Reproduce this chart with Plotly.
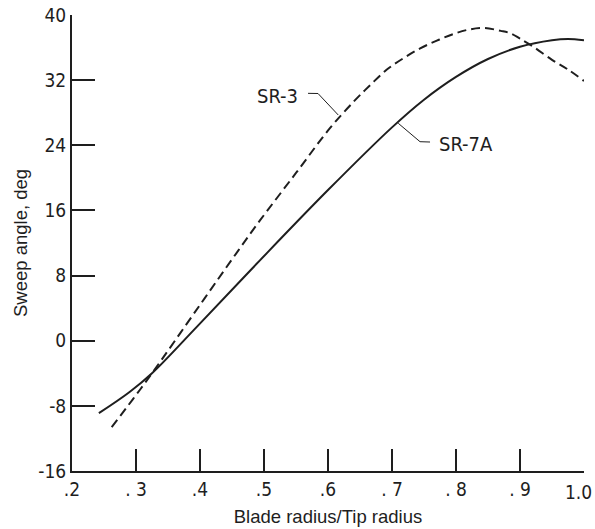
import plotly.graph_objects as go

# SR-7A (solid)
sr7a_x = [0.242, 0.29, 0.325, 0.395, 0.494, 0.60, 0.70, 0.75, 0.80, 0.85, 0.90, 0.95, 0.975, 1.0]
sr7a_y = [-8.9, -6.3, -4.0, 1.7, 9.9, 18.5, 26.2, 29.6, 32.4, 34.6, 36.1, 36.9, 37.05, 36.9]

# SR-3 (dashed)
sr3_x = [0.262, 0.295, 0.325, 0.40, 0.46, 0.494, 0.55, 0.603, 0.64, 0.666, 0.692, 0.718, 0.744,
         0.77, 0.796, 0.822, 0.845, 0.87, 0.885, 0.90, 0.921, 0.95, 0.976, 1.0]
sr3_y = [-10.6, -7.2, -4.0, 4.4, 11.1, 14.8, 20.6, 26.1, 29.35, 31.4, 33.3, 34.7, 35.9,
         36.85, 37.67, 38.24, 38.4, 38.05, 37.75, 37.1, 36.1, 34.5, 33.25, 31.9]

x_ticks = [0.2, 0.3, 0.4, 0.5, 0.6, 0.7, 0.8, 0.9, 1.0]
x_tick_labels = [".2", ". 3", ".4", ".5", ".6", ". 7", ". 8", ". 9", "1.0"]
y_ticks = [-16, -8, 0, 8, 16, 24, 32, 40]
y_tick_labels = ["-16", "-8", "0", "8", "16", "24", "32", "40"]

INK = "#1e1e1e"
NARROW = "Liberation Sans Narrow, DejaVu Sans Condensed, sans-serif"
REG = "Liberation Sans, Arial, sans-serif"

fig = go.Figure()
fig.add_trace(go.Scatter(x=sr7a_x, y=sr7a_y, mode="lines",
                         line=dict(color=INK, width=2, shape="spline", smoothing=1.0),
                         showlegend=False, hoverinfo="skip", cliponaxis=False))
fig.add_trace(go.Scatter(x=sr3_x, y=sr3_y, mode="lines",
                         line=dict(color=INK, width=2, dash="9px,5px", shape="spline", smoothing=1.0),
                         showlegend=False, hoverinfo="skip", cliponaxis=False))

# leader lines
fig.add_shape(type="path", path="M 0.5688 30.38 L 0.5844 30.36 L 0.616 27.72",
              xref="x", yref="y", line=dict(color=INK, width=1))
fig.add_shape(type="path", path="M 0.7098 26.7 L 0.7438 24.44 L 0.7594 24.4",
              xref="x", yref="y", line=dict(color=INK, width=1))

fig.add_annotation(x=0.556, y=30.1, text="SR-3", showarrow=False, xanchor="right", yanchor="middle",
                   font=dict(family=NARROW, size=20, color=INK))
fig.add_annotation(x=0.77, y=24.2, text="SR-7A", showarrow=False, xanchor="left", yanchor="middle",
                   font=dict(family=NARROW, size=20, color=INK))

# last x tick label drawn as annotation so it stays inside the page
tick_text_main = x_tick_labels[:-1] + [""]
fig.add_annotation(x=x_ticks[-1], y=0, xref="x", yref="paper", text=x_tick_labels[-1],
                   showarrow=False, xanchor="right", yanchor="top", xshift=10, yshift=-8,
                   font=dict(family=NARROW, size=19, color=INK))

fig.update_layout(
    width=595, height=529,
    margin=dict(l=72, r=11, t=15, b=58),
    paper_bgcolor="white", plot_bgcolor="white",
    showlegend=False,
)
fig.update_xaxes(range=[0.2, 1.0], tickvals=x_ticks, ticktext=tick_text_main,
                 showline=True, linecolor=INK, linewidth=2, mirror=False,
                 ticks="inside", ticklen=22, tickwidth=1.5, tickcolor=INK,
                 showgrid=False, zeroline=False, automargin=False,
                 ticklabeloverflow="allow",
                 tickfont=dict(family=NARROW, size=19, color=INK),
                 title=dict(text="Blade radius/Tip radius", font=dict(family=REG, size=18.5, color=INK), standoff=11))
fig.update_yaxes(range=[-16, 40], tickvals=y_ticks, ticktext=y_tick_labels,
                 showline=True, linecolor=INK, linewidth=2, mirror=False,
                 ticks="inside", ticklen=23, tickwidth=1.5, tickcolor=INK,
                 showgrid=False, zeroline=False, automargin=False,
                 ticklabeloverflow="allow",
                 tickfont=dict(family=NARROW, size=19, color=INK),
                 title=dict(text="Sweep angle, deg", font=dict(family=REG, size=18.5, color=INK), standoff=6))

fig.write_html("out.html", config={"displayModeBar": False},
               post_script="document.body.style.margin='0';")
